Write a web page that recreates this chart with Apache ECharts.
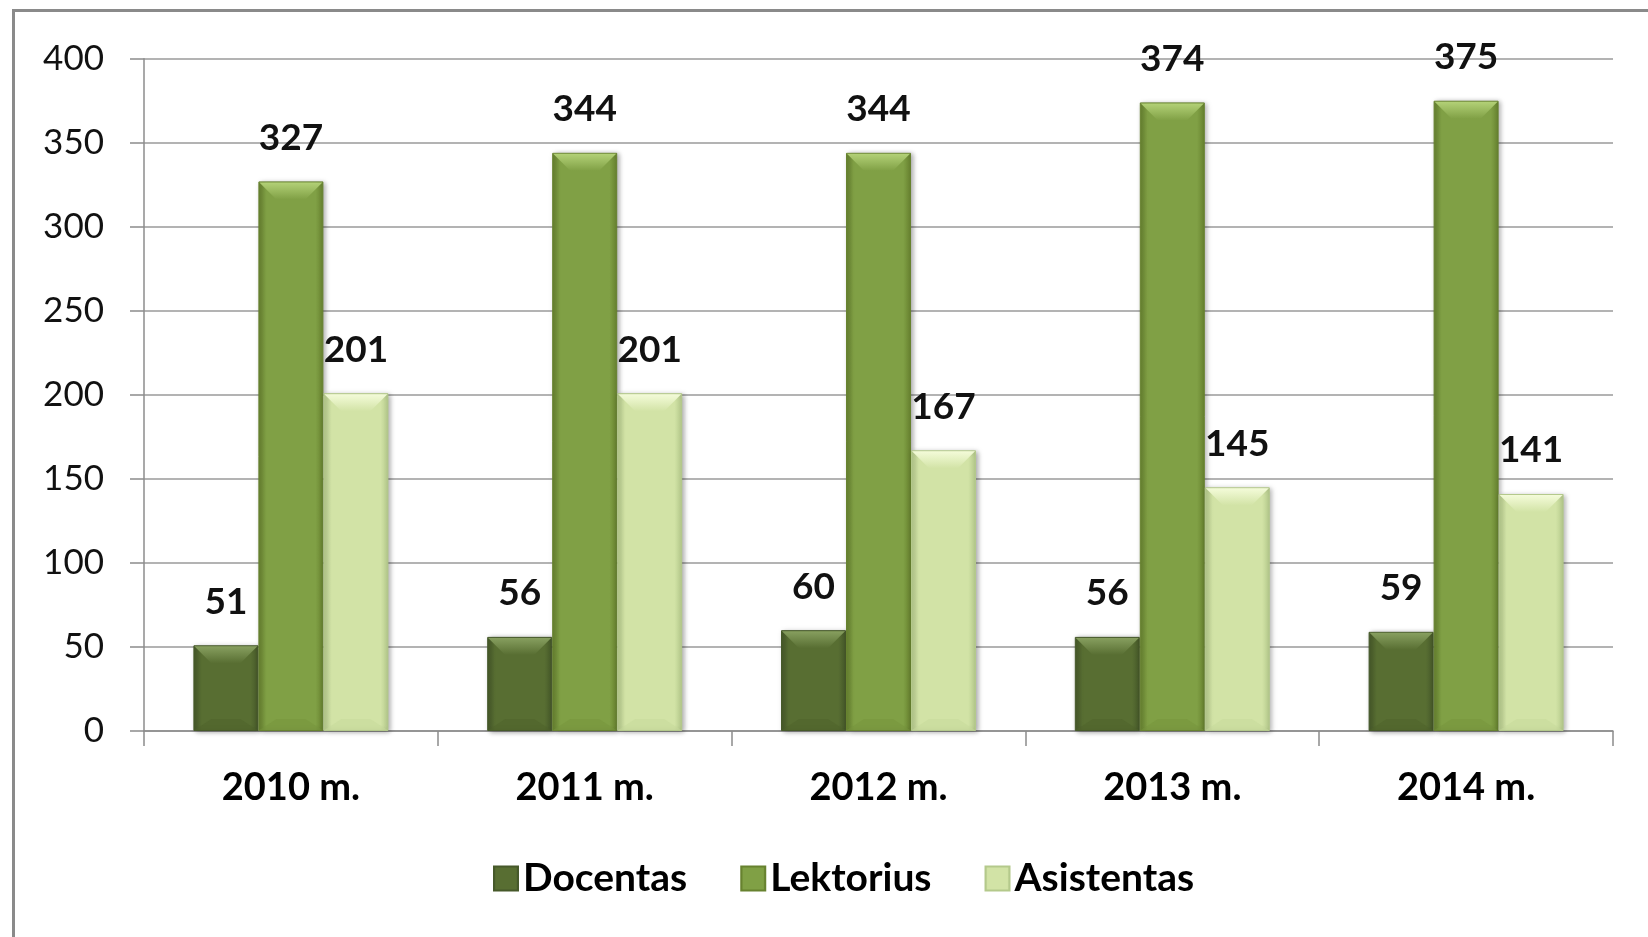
<!DOCTYPE html>
<html>
<head>
<meta charset="utf-8">
<script src="https://cdn.jsdelivr.net/npm/echarts@6/dist/echarts.min.js"></script>
<style>
html,body{margin:0;padding:0;background:#fff;overflow:hidden;}
#frame{position:absolute;left:12px;top:9px;width:1700px;height:1000px;border-left:3px solid #8a8a8a;border-top:3px solid #8a8a8a;}
#chart{position:absolute;left:0;top:0;width:1648px;height:937px;}
</style>
</head>
<body>
<div id="frame"></div>
<div id="chart"></div>
<script>
const categories = ['2010 m.', '2011 m.', '2012 m.', '2013 m.', '2014 m.'];
const seriesNames = ['Docentas', 'Lektorius', 'Asistentas'];
const docentas = [51, 56, 60, 56, 59];
const lektorius = [327, 344, 344, 374, 375];
const asistentas = [201, 201, 167, 145, 141];
const yTicks = [0, 50, 100, 150, 200, 250, 300, 350, 400];

const FONT = 'Lato, "Open Sans", sans-serif';
const BAR_W = 65;
const palettes = [
  {edge:'#46592a', mid:'#586e32', bevel:'#8aa262', bot:'#4d6229'},
  {edge:'#67822f', mid:'#80a045', bevel:'#b6d47a', bot:'#76943c'},
  {edge:'#b4c98b', mid:'#d2e3a6', bevel:'#f6fddc', bot:'#c6d99a'}
];
const allValues = [docentas, lektorius, asistentas];

function grad(p){
  return new echarts.graphic.LinearGradient(0,0,1,0,[
    {offset:0,color:p.edge},{offset:0.12,color:p.mid},{offset:0.88,color:p.mid},{offset:1,color:p.edge}
  ]);
}

const bevelData = [];
allValues.forEach((arr, s) => arr.forEach((v, i) => bevelData.push([i, v, s])));

const barSeries = allValues.map((arr, s) => ({
  name: seriesNames[s],
  type: 'bar',
  data: arr,
  barWidth: BAR_W,
  barGap: '0%',
  itemStyle: {
    color: grad(palettes[s]),
    borderColor: palettes[s].edge,
    borderWidth: 1,
    shadowColor: 'rgba(0,0,0,0.35)',
    shadowBlur: 5,
    shadowOffsetX: 2,
    shadowOffsetY: 1
  },
  label: {
    show: true,
    position: 'top',
    distance: 25,
    fontFamily: FONT,
    fontWeight: 'bold',
    fontSize: 37,
    color: '#111'
  },
  z: 2
}));

function renderBevel(params, api){
  const i = api.value(0), v = api.value(1), s = api.value(2);
  const top = api.coord([i, v]);
  const base = api.coord([i, 0]);
  const cx = top[0] + (s - 1) * BAR_W;
  const l = cx - BAR_W/2 + 1, r = cx + BAR_W/2 - 1;
  const d = 17;
  const y = top[1] + 1, yb = base[1] - 1;
  const p = palettes[s];
  return {
    type: 'group',
    children: [
      {type: 'polygon', shape: {points: [[l, y], [r, y], [r - d, y + d], [l + d, y + d]]},
       style: {fill: new echarts.graphic.LinearGradient(0,0,0,1,[
         {offset:0,color:p.bevel},{offset:1,color:p.mid}]), opacity: 0.95}},
      {type: 'polygon', shape: {points: [[l, yb], [r, yb], [r - d, yb - 11], [l + d, yb - 11]]},
       style: {fill: p.bot, opacity: 0.5}}
    ]
  };
}

const option = {
  animation: false,
  backgroundColor: 'transparent',
  grid: {left: 144, right: 35, top: 58.7, bottom: 206, containLabel: false},
  legend: {
    data: seriesNames,
    bottom: 34,
    left: 488,
    itemWidth: 24,
    itemHeight: 24,
    itemGap: 53,
    icon: 'rect',
    textStyle: {fontFamily: FONT, fontWeight: 'bold', fontSize: 39, color: '#000'}
  },
  xAxis: {
    type: 'category',
    data: categories,
    axisLine: {lineStyle: {color: '#8c8c8c', width: 1.5}},
    axisTick: {show: true, length: 15, lineStyle: {color: '#8c8c8c', width: 1.5}},
    axisLabel: {fontFamily: FONT, fontWeight: 'bold', fontSize: 38, color: '#000', margin: 38}
  },
  yAxis: {
    type: 'value',
    min: 0, max: 400, interval: 50,
    axisLine: {show: true, lineStyle: {color: '#8c8c8c', width: 1.5}},
    axisTick: {show: true, length: 14, lineStyle: {color: '#8c8c8c', width: 1.5}},
    splitLine: {lineStyle: {color: '#9a9a9a', width: 1.5}},
    axisLabel: {
      fontFamily: FONT, fontSize: 35, color: '#111', margin: 40,
      formatter: v => yTicks.includes(v) ? String(v) : ''
    }
  },
  series: barSeries.concat([{
    type: 'custom',
    name: 'bevel',
    coordinateSystem: 'cartesian2d',
    dimensions: ['cat', 'val', 'ser'],
    data: bevelData,
    encode: {x: 0, y: 1},
    z: 10,
    silent: true,
    clip: false,
    renderItem: renderBevel
  }])
};

const chart = echarts.init(document.getElementById('chart'));
chart.setOption(option);
</script>
</body>
</html>
